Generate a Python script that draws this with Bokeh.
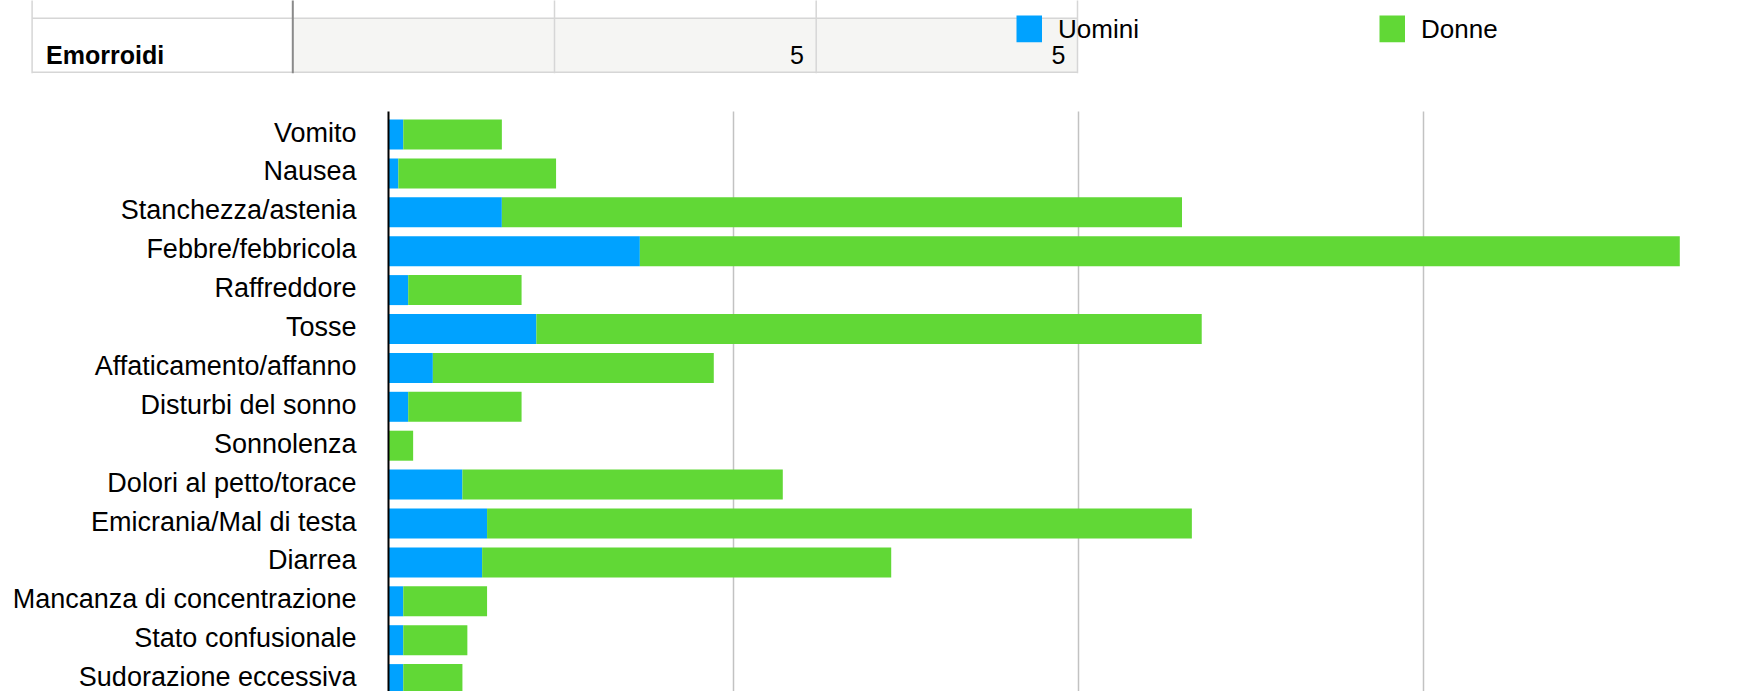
from bokeh.plotting import figure
from bokeh.models import Range1d, ColumnDataSource
from bokeh.core.properties import value
from bokeh.embed import file_html
from bokeh.resources import INLINE

# ---------------- data ----------------
categories = ["Vomito", "Nausea", "Stanchezza/astenia", "Febbre/febbricola",
              "Raffreddore", "Tosse", "Affaticamento/affanno", "Disturbi del sonno",
              "Sonnolenza", "Dolori al petto/torace", "Emicrania/Mal di testa",
              "Diarrea", "Mancanza di concentrazione", "Stato confusionale",
              "Sudorazione eccessiva"]
uomini = [3, 2, 23, 51, 4, 30, 9, 4, 0, 15, 20, 19, 3, 3, 3]
donne = [20, 32, 138, 211, 23, 135, 57, 23, 5, 65, 143, 83, 17, 13, 12]
series = ["Uomini", "Donne"]
colors = ["#00A2FF", "#61D836"]
grid_ticks = [70, 140, 210]

table_labels = ["Emorroidi"]
table_uomini = [5]
table_donne = [5]

FONT = value("Liberation Sans")
W, H = 1757, 691

# layout helpers: figure pixel -> data coordinates
PPU = 345.0 / 70.0      # pixels per value unit
X0 = 388.0              # pixel x of value 0
ROW = 38.9              # pixels per category row
Y0 = 134.0              # pixel y of the first category centre


def X(fx):
    return (fx - X0) / PPU


def Y(fy):
    return (fy - Y0) / ROW


p = figure(width=W, height=H, x_range=Range1d(X(0), X(W)), y_range=Range1d(Y(H), Y(0)),
           x_axis_location=None, y_axis_location=None, toolbar_location=None,
           output_backend="svg", min_border=0)
p.outline_line_color = None
p.grid.visible = False

# ---------------- table fragment ----------------
row_top, row_bot = 17.7, 71.7
col_x = [31.6, 292.3, 554.0, 815.7, 1077.0]
p.quad(left=[X(col_x[1])], right=[X(col_x[4])], top=[Y(row_top)], bottom=[Y(row_bot)],
       fill_color="#f5f5f3", line_color=None)
p.segment(x0=[X(col_x[0])] * 2, x1=[X(col_x[4])] * 2,
          y0=[Y(row_top), Y(row_bot)], y1=[Y(row_top), Y(row_bot)],
          line_color="#d6d6d6", line_width=1.5)
for i, xx in enumerate(col_x):
    p.segment(x0=[X(xx)], x1=[X(xx)], y0=[Y(-5)], y1=[Y(row_bot + 1)],
              line_color="#8a8a8a" if i == 1 else "#d6d6d6",
              line_width=2 if i == 1 else 1.5)
p.text(x=[X(45.6)], y=[Y(54.3)], text=table_labels, text_font=FONT, text_font_style="bold",
       text_font_size="25px", text_color="#000000", text_baseline="alphabetic")
p.text(x=[X(col_x[3] - 12.4)], y=[Y(54.3)], text=[str(v) for v in table_uomini], text_font=FONT,
       text_font_size="25px", text_align="right", text_baseline="alphabetic", text_color="#000000")
p.text(x=[X(col_x[4] - 12)], y=[Y(54.3)], text=[str(v) for v in table_donne], text_font=FONT,
       text_font_size="25px", text_align="right", text_baseline="alphabetic", text_color="#000000")

# ---------------- legend ----------------
leg_x = [1016.0, 1379.0]
p.quad(left=[X(x) for x in leg_x], right=[X(x + 25.5) for x in leg_x],
       top=[Y(15)] * 2, bottom=[Y(41.7)] * 2, fill_color=colors, line_color=None)
p.text(x=[X(x + 41.5) for x in leg_x], y=[Y(28)] * 2, text=series, text_font=FONT,
       text_font_size="26px", text_baseline="middle", text_color="#000000")

# ---------------- bar chart ----------------
idx = list(range(len(categories)))
src = ColumnDataSource(dict(idx=idx, Uomini=uomini, Donne=donne, cat=categories))

# vertical gridlines
p.segment(x0=grid_ticks, x1=grid_ticks, y0=[Y(111)] * len(grid_ticks), y1=[Y(H + 5)] * len(grid_ticks),
          line_color="#c2c2c2", line_width=1.5)

p.hbar_stack(series, y="idx", height=30.0 / ROW, color=colors, source=src, line_color=None)

# value axis line
p.segment(x0=[0], x1=[0], y0=[Y(111)], y1=[Y(H + 5)], line_color="#000000", line_width=2)

# category labels
p.text(x=X(356), y="idx", text="cat", source=src, text_font=FONT, text_font_size="27px",
       text_align="right", text_baseline="middle", text_color="#000000", y_offset=-2)

open("out.html", "w").write(file_html(p, INLINE))
